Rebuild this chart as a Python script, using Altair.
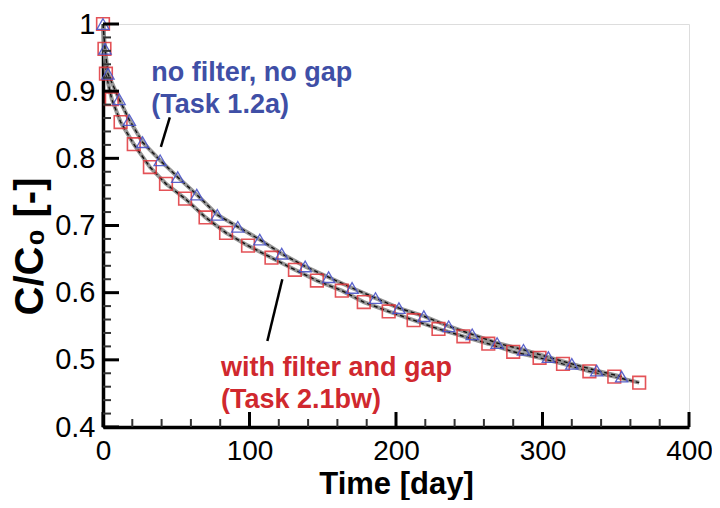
import altair as alt
import pandas as pd

# ---- data ----
sq_t = [0, 1, 2, 6, 12, 21, 32, 43, 56, 70, 84, 99, 115, 131, 146, 163, 178, 195,
        212, 229, 246, 263, 280, 298, 314, 332, 349, 366]
sq_v = [1.0, 0.963, 0.926, 0.888, 0.854, 0.821, 0.787, 0.762, 0.740, 0.712, 0.689,
        0.670, 0.652, 0.634, 0.618, 0.603, 0.586, 0.572, 0.559, 0.546, 0.535, 0.524,
        0.512, 0.503, 0.494, 0.483, 0.475, 0.466]

tr_t = [0, 1.4, 3.4, 11, 18, 27, 39, 51, 64, 78, 92, 107, 122, 138, 154, 170, 186,
        202, 219, 236, 252, 269, 287, 304, 320, 337, 354]
tr_v = [1.0, 0.963, 0.926, 0.888, 0.857, 0.824, 0.797, 0.772, 0.746, 0.716, 0.698,
        0.679, 0.658, 0.639, 0.623, 0.607, 0.592, 0.577, 0.565, 0.550, 0.538, 0.525,
        0.515, 0.504, 0.494, 0.484, 0.475]

x_major = [0, 100, 200, 300, 400]
x_minor = [20, 40, 60, 80, 120, 140, 160, 180, 220, 240, 260, 280, 320, 340, 360, 380]
y_major = [0.4, 0.5, 0.6, 0.7, 0.8, 0.9, 1.0]
y_minor = [0.42, 0.44, 0.46, 0.48, 0.52, 0.54, 0.56, 0.58, 0.62, 0.64, 0.66, 0.68,
           0.72, 0.74, 0.76, 0.78, 0.82, 0.84, 0.86, 0.88, 0.92, 0.94, 0.96, 0.98]

note_text = ["no filter, no gap", "(Task 1.2a)", "with filter and gap", "(Task 2.1bw)"]
note_t = [33, 33, 80.5, 80.5]
note_v = [0.9157, 0.868, 0.4763, 0.429]
note_c = ["#3F4FA6", "#3F4FA6", "#D0282E", "#D0282E"]

ptr_t = [45.6, 122.4]
ptr_v = [0.861, 0.620]
ptr_t2 = [39.5, 112.2]
ptr_v2 = [0.817, 0.528]

FONT = "Liberation Sans, Arial, sans-serif"

sq = pd.DataFrame({"t": sq_t, "v": sq_v})
tr = pd.DataFrame({"t": tr_t, "v": tr_v})
notes = pd.DataFrame({"t": note_t, "v": note_v, "label": note_text, "c": note_c})
ptrs = pd.DataFrame({"t": ptr_t, "v": ptr_v, "t2": ptr_t2, "v2": ptr_v2})

W, H = 586, 403

xscale = alt.Scale(domain=[0, 400], nice=False, zero=False)
yscale = alt.Scale(domain=[0.4, 1.0], nice=False, zero=False)

xaxis = alt.Axis(values=x_major, title="Time [day]", labelFont=FONT, labelFontSize=28,
                 labelColor="black", labelPadding=10, labelFlush=False, labelOverlap=False,
                 ticks=False, grid=False, domainColor="black", domainWidth=3.5,
                 titleFont=FONT, titleFontSize=31, titleFontWeight="bold", titleColor="black",
                 titleX=W / 2, titleY=57, titleBaseline="middle", titleAlign="center")
yaxis = alt.Axis(values=y_major, format=".1~f", title="C/C₀ [-]", labelFont=FONT,
                 labelFontSize=29, labelColor="black", labelPadding=8, labelFlush=False,
                 labelOverlap=False, ticks=False, grid=False, domainColor="black",
                 domainWidth=3.5, titleFont=FONT, titleFontSize=40, titleFontWeight="bold",
                 titleColor="black", titleX=-73, titleY=222, titleAngle=270,
                 titleBaseline="middle", titleAlign="center")

X = alt.X("t:Q", scale=xscale, axis=xaxis)
Y = alt.Y("v:Q", scale=yscale, axis=yaxis)


def line_layers(df):
    base = alt.Chart(df)
    return [
        base.mark_line(color="#8a8a8a", strokeWidth=4, opacity=0.9).encode(x=X, y=Y, order="t:Q"),
        base.mark_line(color="#111111", strokeWidth=1.4, strokeDash=[4, 3]).encode(x=X, y=Y, order="t:Q"),
    ]


squares = alt.Chart(sq).mark_point(shape="square", size=160, filled=False,
                                   color="#E0353A", strokeWidth=1.6, opacity=0.85).encode(x=X, y=Y)
triangles = alt.Chart(tr).mark_point(shape="triangle-up", size=150, filled=False,
                                     color="#4B55C8", strokeWidth=1.3, opacity=0.9).encode(x=X, y=Y)

xt_major = alt.Chart(pd.DataFrame({"t": x_major})).mark_rule(color="black", strokeWidth=3).encode(
    x=X, y=alt.value(H), y2=alt.value(H - 15))
xt_minor = alt.Chart(pd.DataFrame({"t": x_minor})).mark_rule(color="#333333", strokeWidth=2).encode(
    x=X, y=alt.value(H), y2=alt.value(H - 8))
yt_major = alt.Chart(pd.DataFrame({"v": y_major})).mark_rule(color="black", strokeWidth=3).encode(
    y=Y, x=alt.value(0), x2=alt.value(16))
yt_minor = alt.Chart(pd.DataFrame({"v": y_minor})).mark_rule(color="#333333", strokeWidth=2).encode(
    y=Y, x=alt.value(0), x2=alt.value(8))

texts = alt.Chart(notes).mark_text(align="left", baseline="alphabetic", font=FONT,
                                   fontSize=27, fontWeight="bold").encode(
    x=X, y=Y, text="label:N", color=alt.Color("c:N", scale=None))
pointers = alt.Chart(ptrs).mark_rule(color="black", strokeWidth=2.5).encode(
    x=X, y=Y, x2="t2:Q", y2="v2:Q")

chart = alt.layer(
    *line_layers(sq), *line_layers(tr), squares, triangles,
    xt_major, xt_minor, yt_major, yt_minor, texts, pointers
).properties(
    width=W, height=H,
    autosize=alt.AutoSizeParams(type="none"),
    padding={"left": 95, "top": 16, "right": 23, "bottom": 73},
).configure_view(stroke=None).configure(background="white")

chart.save("out.html", embed_options={"renderer": "svg", "actions": False})
